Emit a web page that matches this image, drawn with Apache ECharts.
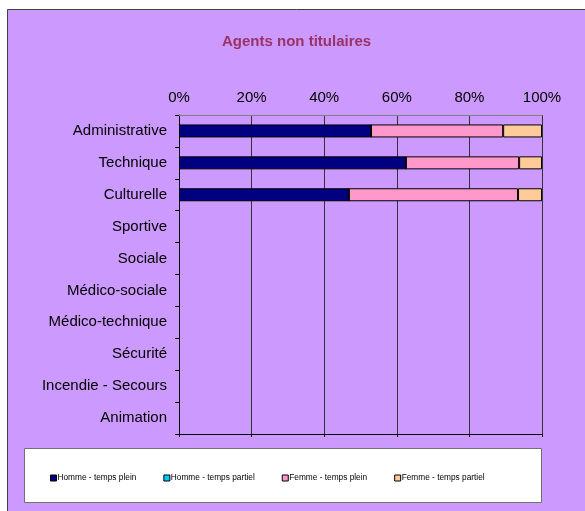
<!DOCTYPE html>
<html><head><meta charset="utf-8">
<script src="https://cdn.jsdelivr.net/npm/echarts@6/dist/echarts.min.js"></script>
<style>html,body{margin:0;padding:0;background:#fff}#c{width:585px;height:511px}</style>
</head><body><div id="c"></div>
<script>
const categories = ['Administrative','Technique','Culturelle','Sportive','Sociale','Médico-sociale','Médico-technique','Sécurité','Incendie - Secours','Animation'];
const hommePlein   = [52.9, 62.5, 46.8, null, null, null, null, null, null, null];
const hommePartiel = [0, 0, 0, null, null, null, null, null, null, null];
const femmePlein   = [36.4, 31.2, 46.6, null, null, null, null, null, null, null];
const femmePartiel = [10.7, 6.3, 6.6, null, null, null, null, null, null, null];
const seriesNames = ['Homme - temps plein','Homme - temps partiel','Femme - temps plein','Femme - temps partiel'];
const tickValues = [0,20,40,60,80,100];

const colors = ['#000080','#00CCFF','#FF99CC','#FFCC99'];
const datas = [hommePlein, hommePartiel, femmePlein, femmePartiel];
const font = 'Arial, "Liberation Sans", sans-serif';

const chart = echarts.init(document.getElementById('c'), null, {renderer:'canvas'});
chart.setOption({
  backgroundColor: '#ffffff',
  animation: false,
  graphic: [
    {type:'rect', z:-10, shape:{x:7.5,y:9.5,width:640,height:560}, style:{fill:'#CC99FF', stroke:'#404040', lineWidth:1}},
    {type:'rect', z:-9, shape:{x:24.5,y:448.5,width:517,height:54}, style:{fill:'#ffffff', stroke:'#707070', lineWidth:1}}
  ],
  title: {
    text: 'Agents non titulaires', left: 217, top: 29,
    textStyle: {color:'#993366', fontSize:15, fontWeight:'bold', fontFamily:font}
  },
  legend: {
    left: 45, top: 469, itemWidth: 6, itemHeight: 6, itemGap: 27,
    icon: 'rect',
    textStyle: {fontSize:8.3, color:'#000', fontFamily:font, padding:[0,0,0,-4]},
    data: seriesNames.map((n,i)=>({name:n, itemStyle:{color:colors[i], borderColor:'#000', borderWidth:1}}))
  },
  grid: {left:179, right:43, top:115, bottom:77},
  xAxis: [
    {type:'value', position:'top', min:0, max:100, interval:20,
     axisLine:{show:true, lineStyle:{color:'#808080'}},
     axisTick:{show:false},
     axisLabel:{formatter:'{value}%', fontSize:15, color:'#000', fontFamily:font, margin:10},
     splitLine:{show:true, lineStyle:{color:'#333333', width:1}}},
    {type:'value', position:'bottom', min:0, max:100, interval:20,
     axisLine:{show:true, lineStyle:{color:'#000'}},
     axisTick:{show:true, inside:false, length:3, lineStyle:{color:'#000'}},
     axisLabel:{show:false}, splitLine:{show:false}}
  ],
  yAxis: {
    type:'category', inverse:true, data: categories,
    axisLine:{show:true, onZero:false, lineStyle:{color:'#000'}},
    axisTick:{show:true, length:4, lineStyle:{color:'#000'}},
    axisLabel:{fontSize:15, color:'#000', fontFamily:font, margin:12}
  },
  series: seriesNames.map((n,i)=>({
    name:n, type:'bar', stack:'total', xAxisIndex:0, barWidth:13,
    data: datas[i],
    itemStyle:{color:colors[i], borderColor:'#000', borderWidth:1}
  }))
});
</script></body></html>
